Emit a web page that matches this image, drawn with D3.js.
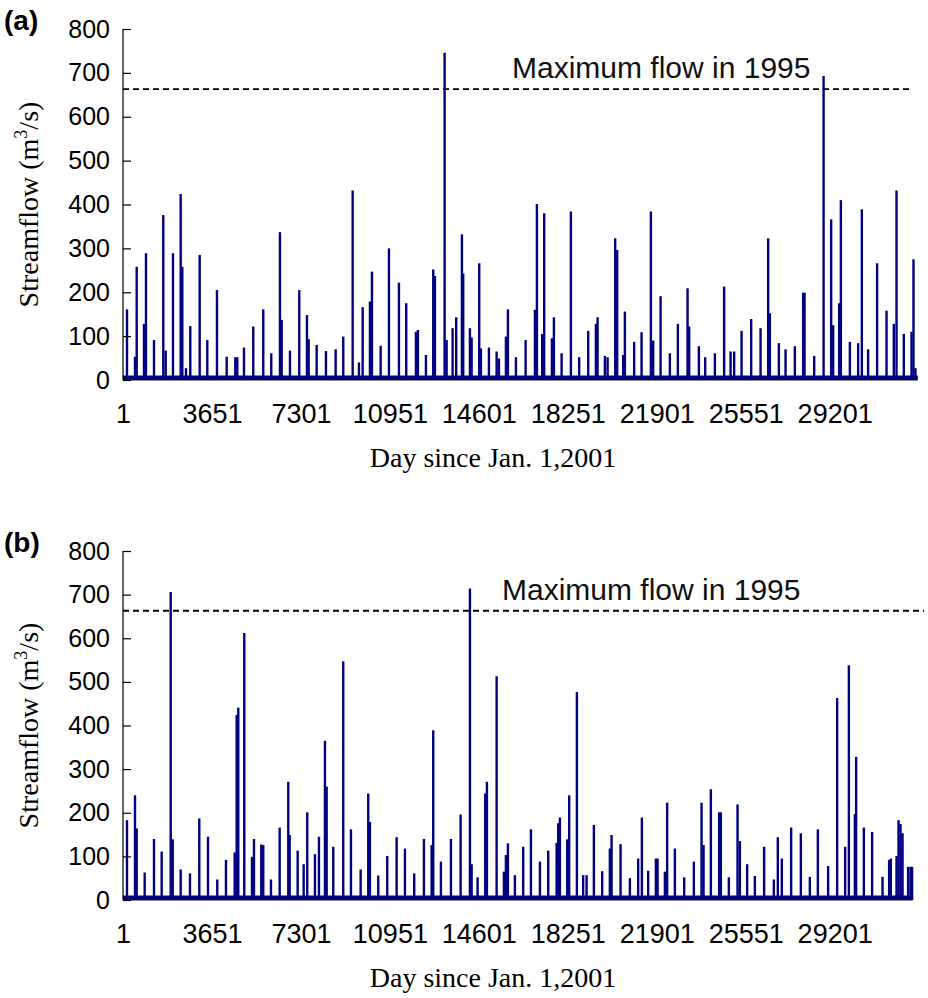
<!DOCTYPE html>
<html>
<head>
<meta charset="utf-8">
<script src="https://cdn.jsdelivr.net/npm/d3@7"></script>
<style>
  html, body { margin: 0; padding: 0; background: #fff; }
  svg { display: block; }
</style>
</head>
<body>
<svg id="chart" width="928" height="998"></svg>
<script>
// ---------------- data ----------------
const dayTicks = [1, 3651, 7301, 10951, 14601, 18251, 21901, 25551, 29201];
const flowTicks = [0, 100, 200, 300, 400, 500, 600, 700, 800];
const max1995 = 663;
const refLabel = "Maximum flow in 1995";
const panelLabels = ["(a)", "(b)"];
const yTitle = "Streamflow (m";
const xTitle = "Day since Jan. 1,2001";
const lastDay = [32612, 32400];
const baseFlow = [5, 5];

// Panel (a): peak days and peak flows (m3/s)
const peakDaysA = [165, 493, 563, 862, 944, 1273, 1654, 1753, 2052, 2368, 2434, 2585, 2762, 3147, 3459, 3857, 4255, 4608, 4690, 4964,
  5346, 5756, 6084, 6441, 6511, 6852, 7233, 7549, 7619, 7947, 8328, 8726, 9038, 9424, 9682, 9834, 10133, 10215, 10572, 10913,
  11323, 11622, 12020, 12102, 12430, 12730, 12800, 13197, 13279, 13525, 13673, 13907, 13960, 14235, 14305, 14617, 14686, 15015, 15331, 15425,
  15712, 15794, 16123, 16520, 16902, 16984, 17201, 17283, 17599, 17681, 17997, 18378, 18719, 19088, 19404, 19473, 19773, 19884, 20195, 20277,
  20524, 20593, 20974, 21278, 21660, 21754, 22058, 22439, 22767, 23165, 23231, 23629, 23888, 24286, 24667, 24930, 25077, 25381, 25775, 26160,
  26472, 26542, 26911, 27186, 27567, 27908, 27965, 28360, 28746, 29057, 29139, 29385, 29455, 29824, 30164, 30316, 30574, 30943, 31329, 31628,
  31739, 32038, 32353, 32435, 32517];
const peakFlowA = [161, 53, 258, 128, 289, 91, 376, 67, 289, 424, 258, 27, 123, 285, 91, 205, 53, 52, 52, 74,
  122, 161, 61, 337, 137, 67, 205, 148, 93, 80, 66, 70, 99, 432, 40, 166, 179, 247, 78, 300,
  222, 175, 110, 114, 57, 252, 237, 746, 91, 118, 143, 332, 243, 118, 97, 266, 72, 74, 65, 49,
  99, 161, 52, 91, 160, 401, 105, 380, 95, 143, 61, 384, 52, 112, 128, 143, 55, 52, 323, 296,
  57, 156, 87, 109, 384, 90, 191, 61, 128, 209, 122, 77, 52, 61, 213, 65, 65, 112, 139, 118,
  323, 152, 84, 70, 77, 199, 199, 55, 693, 366, 125, 175, 410, 87, 84, 389, 70, 266, 158, 128,
  432, 105, 110, 275, 27];

// Panel (b): peak days and peak flows (m3/s)
const peakDaysB = [165, 493, 563, 891, 1273, 1588, 1958, 2040, 2368, 2749, 3131, 3488, 3869, 4226, 4583, 4665, 4731, 4977, 5293, 5375,
  5674, 5756, 6072, 6429, 6782, 6839, 7167, 7414, 7561, 7877, 8041, 8287, 8357, 8628, 9038, 9354, 9752, 10063, 10133, 10474,
  10843, 11228, 11569, 11950, 12348, 12664, 12730, 13045, 13456, 13853, 14235, 14305, 14551, 14863, 14932, 15331, 15630, 15712, 15794, 16081,
  16422, 16738, 17107, 17448, 17792, 17858, 17927, 18226, 18308, 18624, 18882, 19022, 19321, 19662, 19977, 20047, 20416, 20798, 21138, 21290,
  21549, 21865, 21934, 22234, 22328, 22644, 23026, 23423, 23739, 23821, 24121, 24461, 24531, 24859, 25216, 25310, 25610, 25926, 26307, 26705,
  26869, 27033, 27415, 27813, 28182, 28511, 28933, 29303, 29631, 29783, 30029, 30082, 30398, 30738, 31164, 31435, 31505, 31739, 31821, 31903,
  31985, 32214, 32313, 32378];
const peakFlowB = [183, 240, 164, 63, 140, 111, 706, 139, 70, 61, 187, 145, 47, 92, 109, 424, 441, 612, 99, 140,
  127, 126, 47, 166, 271, 149, 113, 82, 201, 105, 145, 365, 260, 122, 547, 162, 70, 244, 179, 56,
  101, 144, 118, 61, 140, 126, 389, 88, 140, 196, 714, 82, 52, 244, 271, 513, 65, 103, 130, 57,
  122, 162, 88, 113, 131, 176, 189, 139, 240, 477, 57, 57, 172, 66, 118, 149, 128, 50, 95, 189,
  67, 95, 95, 65, 223, 118, 52, 88, 223, 126, 254, 201, 201, 52, 219, 135, 82, 55, 122, 47,
  144, 95, 166, 153, 53, 162, 78, 463, 122, 538, 197, 328, 166, 156, 53, 92, 95, 101, 183, 174,
  153, 76, 76, 76];

// ---------------- drawing ----------------
const svg = d3.select("#chart");
const navy = "#000080";

const panels = [
  { days: peakDaysA, flows: peakFlowA, top: 29, bottom: 380, refEnd: 32283, labelX: 512 },
  { days: peakDaysB, flows: peakFlowB, top: 551, bottom: 900, refEnd: 32870, labelX: 502 }
];

const x = d3.scaleLinear().domain([1, 32620]).range([123, 918]);

panels.forEach((p, i) => {
  const y = d3.scaleLinear().domain([0, 800]).range([p.bottom, p.top]);
  const g = svg.append("g");

  // grey x baseline
  g.append("line")
    .attr("x1", x(1)).attr("x2", x(lastDay[i]))
    .attr("y1", y(0)).attr("y2", y(0))
    .attr("stroke", "#8a8a8a").attr("stroke-width", 2);

  // base flow band
  g.append("line")
    .attr("x1", x(1)).attr("x2", x(lastDay[i]))
    .attr("y1", y(baseFlow[i])).attr("y2", y(baseFlow[i]))
    .attr("stroke", navy).attr("stroke-width", 4.5);

  // spikes
  const pts = p.days.map((d, k) => ({ day: d, flow: p.flows[k] }));
  g.selectAll("line.spike").data(pts).join("line")
    .attr("class", "spike")
    .attr("x1", d => x(d.day)).attr("x2", d => x(d.day))
    .attr("y1", y(0)).attr("y2", d => y(d.flow))
    .attr("stroke", navy).attr("stroke-width", 2.4);

  // reference dashed line
  g.append("line")
    .attr("x1", x(1)).attr("x2", x(p.refEnd))
    .attr("y1", y(max1995)).attr("y2", y(max1995))
    .attr("stroke", "#000").attr("stroke-width", 1.8)
    .attr("stroke-dasharray", "6,4");

  g.append("text")
    .attr("x", p.labelX).attr("y", y(max1995) - 11)
    .attr("font-family", "Liberation Sans, Arial, sans-serif")
    .attr("font-size", 30).attr("fill", "#111")
    .text(refLabel);

  // y axis
  const yAxis = d3.axisLeft(y).tickValues(flowTicks).tickSize(-8).tickPadding(13).tickFormat(d3.format("d"));
  const ya = g.append("g").attr("transform", `translate(${x(1)},0)`).call(yAxis);
  ya.select(".domain").attr("stroke", "#000").attr("stroke-width", 1.2).attr("d", `M0,${p.bottom}V${p.top}`);
  ya.selectAll(".tick line").attr("stroke", "#000").attr("stroke-width", 1.2);
  ya.selectAll(".tick text")
    .attr("font-family", "Liberation Sans, Arial, sans-serif")
    .attr("font-size", 25).attr("fill", "#000");

  // x axis labels (no tick marks)
  const xAxis = d3.axisBottom(x).tickValues(dayTicks).tickSize(0).tickPadding(0).tickFormat(d3.format("d"));
  const xa = g.append("g").attr("transform", `translate(0,${p.bottom})`).call(xAxis);
  xa.select(".domain").remove();
  xa.selectAll(".tick text")
    .attr("font-family", "Liberation Sans, Arial, sans-serif")
    .attr("font-size", 27).attr("fill", "#000")
    .attr("dy", null).attr("y", 43);

  // panel label
  g.append("text")
    .attr("x", 4).attr("y", p.top + 1)
    .attr("font-family", "Liberation Sans, Arial, sans-serif")
    .attr("font-weight", "bold").attr("font-size", 28)
    .text(panelLabels[i]);

  // y title
  const yt = g.append("text")
    .attr("transform", `translate(38,${(p.top + p.bottom) / 2}) rotate(-90)`)
    .attr("text-anchor", "middle")
    .attr("font-family", "Liberation Serif, Times New Roman, serif")
    .attr("font-size", 28).attr("fill", "#000");
  yt.append("tspan").text(yTitle);
  yt.append("tspan").attr("font-size", 18).attr("dy", -11).text("3");
  yt.append("tspan").attr("dy", 11).text("/s)");

  // x title
  g.append("text")
    .attr("x", 493).attr("y", p.bottom + 87)
    .attr("text-anchor", "middle")
    .attr("font-family", "Liberation Serif, Times New Roman, serif")
    .attr("font-size", 28).attr("fill", "#000")
    .text(xTitle);
});
</script>
</body>
</html>
